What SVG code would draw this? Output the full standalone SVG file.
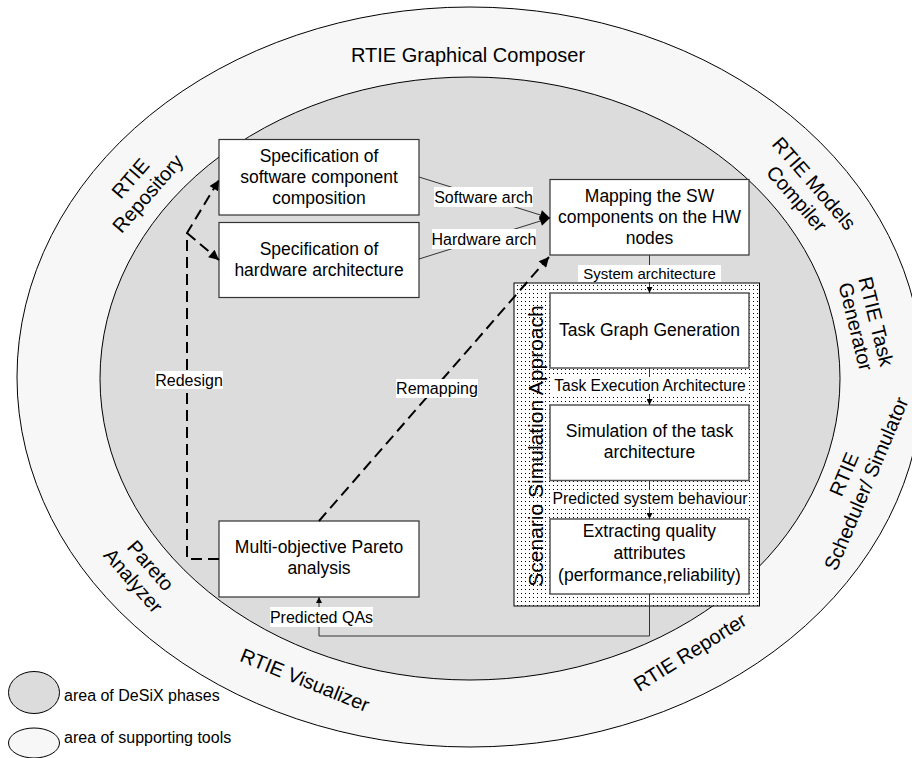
<svg xmlns="http://www.w3.org/2000/svg" width="912" height="758" viewBox="0 0 912 758">
<style>
.ring{font-family:"Liberation Sans",Arial,sans-serif;font-size:20px;fill:#000;text-anchor:middle}
.bt{font-family:"Liberation Sans",Arial,sans-serif;font-size:17.5px;fill:#000;text-anchor:middle}
.lb{font-family:"Liberation Sans",Arial,sans-serif;font-size:16px;fill:#000;text-anchor:middle}
.lg{font-family:"Liberation Sans",Arial,sans-serif;font-size:16px;fill:#000}
.box{fill:#fff;stroke:#333;stroke-width:1.2}
.tbox{fill:#fff;stroke:#555;stroke-width:1.5}
.lbg{fill:#fff}
.solid{fill:none;stroke:#333;stroke-width:1}
.dash{fill:none;stroke:#000;stroke-width:2;stroke-dasharray:11 6}
</style>
<defs>
<pattern id="dots" width="4" height="4" patternUnits="userSpaceOnUse"><rect width="4" height="4" fill="#fff"/><rect x="1" y="1" width="1" height="1" fill="#000"/></pattern>
<marker id="big" viewBox="0 0 10 10" refX="10" refY="5" markerUnits="userSpaceOnUse" markerWidth="12" markerHeight="10" orient="auto"><path d="M0,0 L10,5 L0,10 z" fill="#000"/></marker>
<marker id="small" viewBox="0 0 10 10" refX="10" refY="5" markerUnits="userSpaceOnUse" markerWidth="7" markerHeight="6" orient="auto"><path d="M0,0 L10,5 L0,10 z" fill="#000"/></marker>
</defs>

<g id="rings">
<ellipse cx="470" cy="377" rx="453" ry="370" fill="#f7f7f7" stroke="#000" stroke-width="1"/>
<ellipse cx="470" cy="378.5" rx="370" ry="301.5" fill="#dcdcdc" stroke="#000" stroke-width="1"/>
<text class="ring" x="468" y="62">RTIE Graphical Composer</text>
<g transform="translate(139,186) rotate(-49)"><text class="ring" x="0" y="-4.5">RTIE</text><text class="ring" x="0" y="18.5">Repository</text></g>
<g transform="translate(805.5,191) rotate(49)"><text class="ring" x="0" y="-4.5">RTIE Models</text><text class="ring" x="0" y="18.5">Compiler</text></g>
<g transform="translate(866,324) rotate(76)"><text class="ring" x="0" y="-3.5">RTIE Task</text><text class="ring" x="0" y="17.5">Generator</text></g>
<g transform="translate(855,479) rotate(-67)"><text class="ring" x="0" y="-5">RTIE</text><text class="ring" x="0" y="19">Scheduler/ Simulator</text></g>
<g transform="translate(690,652) rotate(-32)"><text class="ring" x="0" y="7">RTIE Reporter</text></g>
<g transform="translate(305,680) rotate(22)"><text class="ring" x="0" y="7">RTIE Visualizer</text></g>
<g transform="translate(142,573) rotate(49)"><text class="ring" x="0" y="-4.5">Pareto</text><text class="ring" x="0" y="18.5">Analyzer</text></g>
</g>

<g id="scenario-panel">
<rect x="514" y="283" width="245.5" height="323" fill="url(#dots)" stroke="#000" stroke-width="1"/>
<text class="ring" style="font-size:21px" transform="translate(543,446) rotate(-90)" x="0" y="0">Scenario Simulation Approach</text>
</g>

<g id="spec-sw"><rect class="box" x="219" y="139.5" width="200" height="75.5"/><text class="bt" x="319" y="162">Specification of</text><text class="bt" x="319" y="183">software component</text><text class="bt" x="319" y="204">composition</text></g>
<g id="spec-hw"><rect class="box" x="219" y="222.5" width="200" height="75"/><text class="bt" x="319" y="255">Specification of</text><text class="bt" x="319" y="276">hardware architecture</text></g>
<g id="mapping"><rect class="box" x="550" y="179.5" width="199" height="75.5"/><text class="bt" x="649.5" y="202">Mapping the SW</text><text class="bt" x="649.5" y="223">components on the HW</text><text class="bt" x="649.5" y="244">nodes</text></g>
<g id="pareto"><rect class="box" x="219" y="521" width="200" height="76"/><text class="bt" x="319" y="553">Multi-objective Pareto</text><text class="bt" x="319" y="574">analysis</text></g>
<g id="task-graph"><rect class="tbox" x="550" y="293" width="199" height="75"/><text class="bt" x="649.5" y="336">Task Graph Generation</text></g>
<g id="simulation"><rect class="tbox" x="550" y="405" width="199" height="75.5"/><text class="bt" x="649.5" y="437">Simulation of the task</text><text class="bt" x="649.5" y="458">architecture</text></g>
<g id="extracting"><rect class="tbox" x="550" y="519" width="199" height="75"/><text class="bt" x="649.5" y="537">Extracting quality</text><text class="bt" x="649.5" y="559">attributes</text><text class="bt" x="649.5" y="581">(performance,reliability)</text></g>

<g id="connectors">
<path class="solid" d="M419,177 L550,218" marker-end="url(#big)"/>
<path class="solid" d="M419,259 L550,218" marker-end="url(#big)"/>
<path class="solid" d="M649.5,255 V293" marker-end="url(#small)"/>
<path class="solid" d="M649.5,368 V405" marker-end="url(#small)"/>
<path class="solid" d="M649.5,480.5 V519" marker-end="url(#small)"/>
<path class="solid" d="M649.5,594 V636 H319 V597" marker-end="url(#small)"/>
<path class="dash" d="M219,559 H187 V233 L219,180" marker-end="url(#big)"/>
<path class="dash" d="M187,233 L219,260" marker-end="url(#big)"/>
<path class="dash" d="M319,521 L549,257" marker-end="url(#big)"/>
<rect class="lbg" x="434" y="187" width="99" height="20"/><text class="lb" x="483.5" y="202.6">Software arch</text>
<rect class="lbg" x="432" y="229" width="104" height="20"/><text class="lb" x="484" y="244.6">Hardware arch</text>
<rect class="lbg" x="578" y="265" width="143" height="17"/><text class="lb" style="font-size:15px" x="649.5" y="278.5">System architecture</text>
<rect class="lbg" x="552" y="377" width="196" height="17"/><text class="lb" style="font-size:15.6px" x="650" y="391">Task Execution Architecture</text>
<rect class="lbg" x="552" y="490" width="196" height="17"/><text class="lb" style="font-size:15.8px" x="650" y="504">Predicted system behaviour</text>
<rect class="lbg" x="270" y="607" width="103" height="20"/><text class="lb" x="321.5" y="622.6">Predicted QAs</text>
<rect class="lbg" x="155" y="371" width="68" height="18"/><text class="lb" x="189" y="385.6">Redesign</text>
<rect class="lbg" x="396" y="379" width="82" height="19"/><text class="lb" x="437" y="394">Remapping</text>
</g>

<g id="legend">
<ellipse cx="34" cy="692.5" rx="25.5" ry="21" fill="#dcdcdc" stroke="#000" stroke-width="1"/>
<text class="lg" x="64" y="701">area of DeSiX phases</text>
<ellipse cx="34" cy="743" rx="25.5" ry="15" fill="#f7f7f7" stroke="#000" stroke-width="1"/>
<text class="lg" x="64" y="743">area of supporting tools</text>
</g>
</svg>
